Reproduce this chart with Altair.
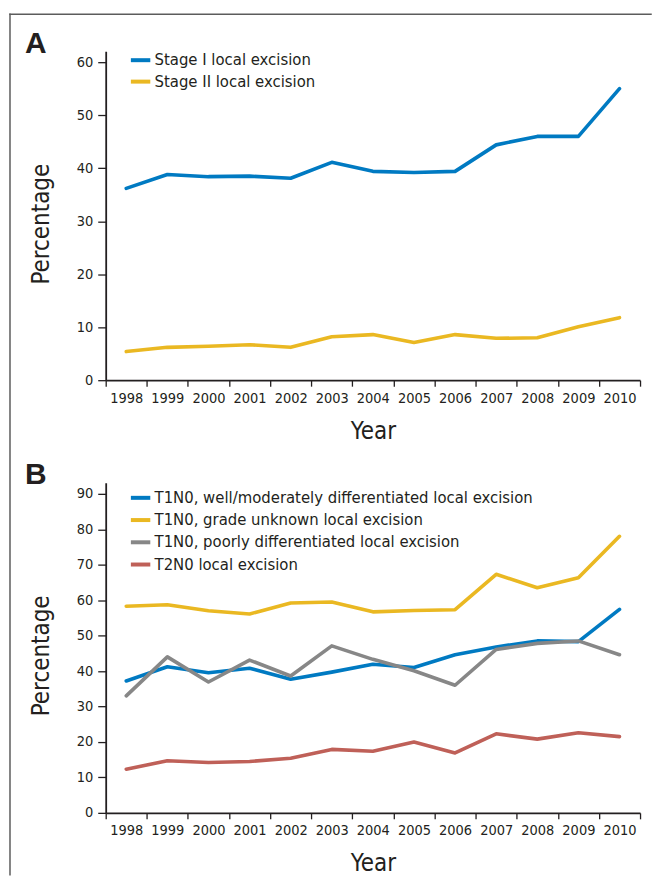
import altair as alt
import pandas as pd

years = [str(y) for y in range(1998, 2011)]

# Panel A
stage1 = [36.2, 38.8, 38.4, 38.5, 38.1, 41.1, 39.4, 39.2, 39.4, 44.4, 46.0, 46.0, 55.0]
stage2 = [5.4, 6.2, 6.4, 6.7, 6.2, 8.2, 8.6, 7.1, 8.6, 7.9, 8.0, 10.1, 11.8]
series_a = ["Stage I local excision", "Stage II local excision"]
colors_a = ["#007ac2", "#eab822"]

# Panel B
t1_well = [37.2, 41.2, 39.5, 40.8, 37.7, 39.7, 41.9, 41.0, 44.6, 46.8, 48.5, 48.3, 57.4]
t1_unknown = [58.3, 58.7, 57.0, 56.1, 59.2, 59.5, 56.7, 57.1, 57.3, 67.3, 63.5, 66.3, 78.0]
t1_poor = [33.0, 44.0, 36.9, 43.1, 38.6, 47.1, 43.3, 40.1, 36.0, 46.1, 47.8, 48.5, 44.6]
t2 = [12.3, 14.7, 14.2, 14.5, 15.4, 17.9, 17.4, 20.0, 16.9, 22.3, 20.8, 22.6, 21.5]
series_b = [
    "T1N0, well/moderately differentiated local excision",
    "T1N0, grade unknown local excision",
    "T1N0, poorly differentiated local excision",
    "T2N0 local excision",
]
colors_b = ["#007ac2", "#eab822", "#878787", "#bf6058"]

ticks_a = [0, 10, 20, 30, 40, 50, 60]
ticks_b = [0, 10, 20, 30, 40, 50, 60, 70, 80, 90]

def long_df(series_names, values_list):
    rows = []
    for name, vals in zip(series_names, values_list):
        for y, v in zip(years, vals):
            rows.append({"year": y, "value": v, "series": name})
    return pd.DataFrame(rows)

df_a = long_df(series_a, [stage1, stage2])
df_b = long_df(series_b, [t1_well, t1_unknown, t1_poor, t2])

NARROW = "DejaVu Sans Condensed"
INK = "#231f20"
FRAME = "#5c5c5c"
W = 536


def panel(df, names, cols, domain_max, ticks, h, letter, letter_y, legend_y, row_pad,
          frame):
    x = alt.X("year:O", bandPosition=0.5,
              scale=alt.Scale(type="band", paddingInner=0, paddingOuter=0),
              axis=alt.Axis(title="Year", tickBand="extent", labelAngle=0,
                            tickSize=6, labelPadding=16, labelBaseline="alphabetic",
                            titleY=58, titleBaseline="alphabetic"))
    y = alt.Y("value:Q",
              scale=alt.Scale(domain=[0, domain_max], nice=False, zero=True),
              axis=alt.Axis(title="Percentage", values=ticks, grid=False,
                            tickSize=8, labelPadding=5,
                            titleAngle=270, titleX=-57, titleY=173,
                            titleAlign="center", titleBaseline="alphabetic"))
    lines = alt.Chart(df).mark_line(strokeWidth=3.6, strokeCap="round",
                                    strokeJoin="round").encode(
        x=x, y=y,
        color=alt.Color("series:N", sort=names,
                        scale=alt.Scale(domain=names, range=cols),
                        legend=alt.Legend(title=None, orient="none",
                                          legendX=23, legendY=legend_y,
                                          symbolType="stroke", symbolStrokeWidth=4,
                                          symbolSize=380, labelFont=NARROW,
                                          labelFontSize=16.6, labelColor=INK,
                                          labelOffset=2, rowPadding=row_pad,
                                          padding=0, labelLimit=600)),
    )
    lab = alt.Chart(pd.DataFrame({"label": [letter]})).mark_text(
        font="Liberation Sans", fontSize=30, fontWeight="bold", color=INK,
        align="left", baseline="top").encode(
        text="label:N", x=alt.value(-81), y=alt.value(letter_y))
    layers = [lines, lab]
    if frame:
        fdf = pd.DataFrame({"k": [0]})
        vline = alt.Chart(fdf).mark_rule(color=FRAME, strokeWidth=1.5, strokeCap="square").encode(
            x=alt.value(-96), y=alt.value(-37), y2=alt.value(826))
        hline = alt.Chart(fdf).mark_rule(color=FRAME, strokeWidth=1.5, strokeCap="square").encode(
            y=alt.value(-37), x=alt.value(-96), x2=alt.value(547))
        layers += [vline, hline]
    return alt.layer(*layers).properties(width=W, height=h)


pa = panel(df_a, series_a, colors_a, 62.07, ticks_a, 330, "A", -22, -3, 0.5, True)
pb = panel(df_b, series_b, colors_b, 93.08, ticks_b, 331, "B", -23, 3, 1.3, False)

chart = alt.vconcat(pa, pb, spacing=103, bounds="flush").resolve_scale(
    color="independent"
).properties(
    padding={"left": 0, "top": 3, "right": 0, "bottom": 0},
    background="white",
).configure_view(stroke=None).configure_axis(
    domainColor=INK, domainWidth=1.8, tickColor=INK, tickWidth=1.3,
    labelFont=NARROW, labelFontSize=14.5, labelColor=INK,
    titleFont=NARROW, titleFontSize=24, titleFontWeight="normal", titleColor=INK,
)

chart.save("out.html", embed_options={"renderer": "svg", "actions": False})
